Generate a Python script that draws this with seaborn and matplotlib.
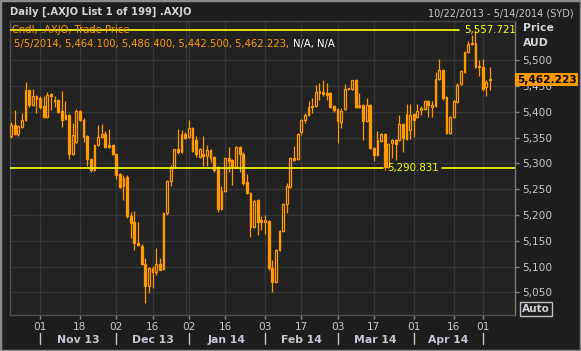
import matplotlib
matplotlib.use("Agg")
import matplotlib.pyplot as plt
from matplotlib.patches import Rectangle
import seaborn as sns
import numpy as np
import pandas as pd

# ---- data (daily candles, .AXJO, 22 Oct 2013 .. 5 May 2014) ----
opens = [5353, 5374, 5356, 5371, 5385, 5442, 5413, 5430, 5426, 5411,
         5390, 5434, 5423, 5422, 5401, 5393, 5393, 5319, 5341, 5401,
         5385, 5353, 5308, 5288, 5335, 5352, 5357, 5335, 5335, 5319,
         5279, 5257, 5274, 5198, 5186, 5146, 5140, 5104, 5062, 5098,
         5090, 5105, 5096, 5203, 5266, 5293, 5327, 5322, 5357, 5351,
         5368, 5345, 5313, 5318, 5315, 5326, 5312, 5292, 5211, 5246,
         5310, 5306, 5293, 5331, 5319, 5264, 5242, 5176, 5228, 5190,
         5187, 5188, 5098, 5070, 5132, 5168, 5222, 5255, 5310, 5308,
         5360, 5384, 5394, 5410, 5412, 5440, 5439, 5437, 5437, 5411,
         5405, 5381, 5406, 5444, 5444, 5461, 5414, 5413, 5382, 5413,
         5329, 5316, 5344, 5357, 5293, 5339, 5346, 5346, 5376, 5348,
         5365, 5395, 5389, 5404, 5405, 5421, 5410, 5411, 5463, 5481,
         5428, 5358, 5390, 5419, 5454, 5477, 5516, 5531, 5534, 5489,
         5487, 5448, 5464.1]
highs = [5380, 5403, 5375, 5397, 5458, 5444, 5445, 5432, 5430, 5430,
         5438, 5436, 5430, 5424, 5440, 5420, 5395, 5378, 5406, 5403,
         5387, 5355, 5310, 5337, 5374, 5377, 5363, 5366, 5338, 5321,
         5281, 5277, 5278, 5206, 5207, 5187, 5144, 5116, 5100, 5101,
         5135, 5116, 5205, 5268, 5296, 5328, 5366, 5364, 5361, 5384,
         5370, 5353, 5330, 5353, 5336, 5327, 5314, 5294, 5256, 5312,
         5331, 5308, 5333, 5333, 5322, 5279, 5244, 5229, 5230, 5198,
         5200, 5190, 5113, 5133, 5170, 5224, 5261, 5312, 5334, 5359,
         5386, 5398, 5421, 5426, 5452, 5456, 5461, 5455, 5439, 5413,
         5407, 5408, 5454, 5447, 5462, 5463, 5436, 5415, 5427, 5415,
         5331, 5363, 5359, 5359, 5340, 5348, 5348, 5393, 5378, 5416,
         5416, 5397, 5416, 5412, 5423, 5423, 5420, 5478, 5503, 5483,
         5430, 5392, 5422, 5455, 5481, 5518, 5538, 5548, 5557.721, 5501,
         5503, 5462, 5486.4]
lows = [5350, 5355, 5354, 5369, 5383, 5410, 5411, 5398, 5405, 5388,
        5388, 5403, 5410, 5398, 5371, 5384, 5308, 5317, 5339, 5383,
        5342, 5295, 5284, 5286, 5333, 5350, 5330, 5330, 5316, 5269,
        5252, 5228, 5195, 5155, 5132, 5140, 5102, 5029, 5048, 5059,
        5083, 5093, 5094, 5200, 5256, 5291, 5319, 5320, 5348, 5349,
        5322, 5312, 5311, 5295, 5295, 5303, 5284, 5206, 5209, 5244,
        5284, 5258, 5291, 5284, 5258, 5240, 5158, 5174, 5161, 5171,
        5164, 5093, 5051, 5068, 5130, 5166, 5204, 5253, 5305, 5306,
        5355, 5378, 5392, 5398, 5410, 5423, 5430, 5423, 5408, 5400,
        5340, 5369, 5404, 5442, 5442, 5408, 5408, 5345, 5380, 5327,
        5305, 5314, 5342, 5287, 5291, 5310, 5306, 5344, 5322, 5346,
        5347, 5352, 5387, 5393, 5403, 5390, 5390, 5409, 5461, 5422,
        5356, 5356, 5388, 5417, 5452, 5475, 5514, 5529, 5485, 5469,
        5440, 5430, 5442.5]
closes = [5374, 5357, 5372, 5385, 5442, 5413, 5430, 5425, 5410, 5390,
          5432, 5431, 5420, 5400, 5385, 5386, 5319, 5355, 5401, 5385,
          5352, 5308, 5288, 5335, 5352, 5357, 5332, 5332, 5319, 5277,
          5255, 5272, 5197, 5185, 5145, 5142, 5104, 5062, 5098, 5090,
          5105, 5094, 5203, 5266, 5293, 5327, 5322, 5357, 5350, 5368,
          5324, 5319, 5327, 5314, 5326, 5310, 5287, 5211, 5246, 5310,
          5305, 5293, 5331, 5319, 5262, 5242, 5176, 5227, 5187, 5187,
          5190, 5098, 5070, 5132, 5168, 5222, 5256, 5310, 5307, 5357,
          5384, 5394, 5410, 5412, 5439, 5437, 5434, 5432, 5410, 5403,
          5382, 5402, 5445, 5445, 5461, 5410, 5410, 5382, 5413, 5329,
          5316, 5345, 5357, 5293, 5338, 5346, 5338, 5376, 5350, 5395,
          5394, 5384, 5402, 5408, 5421, 5413, 5413, 5463, 5481, 5426,
          5358, 5390, 5420, 5452, 5479, 5516, 5531, 5534, 5487, 5486,
          5445, 5458, 5462.223]

# trading-day index of the date ticks
tick_pos = [8, 19, 29, 39, 49, 59, 70, 80, 90, 100, 111, 122, 130]
tick_labels = ['01', '18', '02', '16', '02', '16', '03', '17', '03', '17', '01', '16', '01']
month_starts = [8, 29, 49, 70, 90, 111, 130]
month_labels = ['Nov 13', 'Dec 13', 'Jan 14', 'Feb 14', 'Mar 14', 'Apr 14']

price_ticks = [5050, 5100, 5150, 5200, 5250, 5300, 5350, 5400, 5450, 5500]
upper_level = 5557.721
lower_level = 5290.831
n_days_axis = 139   # axis runs to 14 May 2014

# ---- style ----
ORANGE = '#ff9900'
PANEL = '#222222'
OUTER = '#1d1d1d'
GRID = '#363636'
LABEL = '#c2c9d6'
YELLOW = '#ffff00'

sns.set_theme(style='dark', rc={'axes.facecolor': PANEL, 'figure.facecolor': OUTER})
plt.rcParams['font.family'] = ['DejaVu Sans']

df = pd.DataFrame({'open': opens, 'high': highs, 'low': lows, 'close': closes})
df['x'] = np.arange(len(df))
df['up'] = df['close'] >= df['open']
df['body_lo'] = df[['open', 'close']].min(axis=1)
df['body_h'] = (df['close'] - df['open']).abs().clip(lower=1.5)

W, H = 581, 351
fig = plt.figure(figsize=(W / 100, H / 100), dpi=100)
ax = fig.add_axes([10 / W, 36 / H, 505 / W, 294 / H])
ax.set_facecolor(PANEL)

# grid
for p in price_ticks:
    ax.axhline(p, color=GRID, lw=1, zorder=0)
for p in tick_pos:
    ax.axvline(p, color=GRID, lw=1, zorder=0)
ax.axvline(48.2, color=GRID, lw=1, zorder=0)

# candles: wick first, bodies on top (hollow = up day, filled = down day)
ax.vlines(df['x'], df['low'], df['high'], color=ORANGE, lw=0.9, zorder=3)
up = df[df['up']]
dn = df[~df['up']]
ax.bar(up['x'], up['body_h'], bottom=up['body_lo'], width=0.5,
       facecolor=PANEL, edgecolor=ORANGE, linewidth=0.9, zorder=4)
ax.bar(dn['x'], dn['body_h'], bottom=dn['body_lo'], width=0.5,
       facecolor=ORANGE, edgecolor=ORANGE, linewidth=0.9, zorder=4)

ax.set_xlim(-0.28, n_days_axis - 0.1)
ax.set_ylim(5006, 5576)

# horizontal level lines
ytr = ax.get_yaxis_transform()
ax.plot([0, 0.889], [upper_level] * 2, color=YELLOW, lw=1.2, transform=ytr, zorder=5)
ax.text(0.899, upper_level, f'{upper_level:,.3f}', color=YELLOW, fontsize=7.4,
        transform=ytr, va='center', ha='left', zorder=6)
ax.plot([0, 0.739], [lower_level] * 2, color=YELLOW, lw=1.2, transform=ytr, zorder=5)
ax.plot([0.855, 1], [lower_level] * 2, color=YELLOW, lw=1.2, transform=ytr, zorder=5)
ax.text(0.746, lower_level, f'{lower_level:,.3f}', color=YELLOW, fontsize=7.4,
        transform=ytr, va='center', ha='left', zorder=6)

# y axis on the right
ax.yaxis.tick_right()
ax.set_yticks(price_ticks)
ax.set_yticklabels([f'{p:,}' for p in price_ticks])
ax.tick_params(axis='y', colors='#8a8a8a', labelcolor=LABEL, labelsize=7.6,
               length=3, width=1, pad=2, direction='out', right=True, left=False)

# x axis
ax.set_xticks(tick_pos)
ax.set_xticklabels(tick_labels)
ax.tick_params(axis='x', colors='#8a8a8a', labelcolor=LABEL, labelsize=7.6,
               length=3, width=1, pad=2, direction='out', bottom=True)
xtr = ax.get_xaxis_transform()
for a, b, lab in zip(month_starts[:-1], month_starts[1:], month_labels):
    ax.text((a + b) / 2, -0.085, lab, transform=xtr, ha='center', va='center',
            color=LABEL, fontsize=7.8, fontweight='bold')
for m in month_starts:
    ax.plot([m, m], [-0.062, -0.1], transform=xtr, color=LABEL, lw=1, clip_on=False)

for side, col in [('left', '#505050'), ('bottom', '#505050'), ('top', '#444444'), ('right', '#7a7a7a')]:
    ax.spines[side].set_color(col)
    ax.spines[side].set_linewidth(1)

# last price tag
last = closes[-1]
ax.text(1.004, last, f'{last:,.3f}', transform=ytr, ha='left', va='center',
        color='black', fontsize=7.6, fontweight='bold', zorder=10,
        bbox=dict(boxstyle='square,pad=0.15', fc=ORANGE, ec='none'))

# header texts
def fy(py):
    return 1 - py / H

fig.text(10 / W, fy(12), 'Daily [.AXJO List 1 of 199] .AXJO', color='#d0d4dc',
         fontsize=7.2, fontweight='bold', va='center', ha='left')
fig.text(574 / W, fy(13), '10/22/2013 - 5/14/2014 (SYD)', color=LABEL,
         fontsize=7.0, va='center', ha='right')
fig.text(523 / W, fy(28), 'Price', color='#d0d4dc', fontsize=7.8,
         fontweight='bold', va='center', ha='left')
fig.text(523 / W, fy(43), 'AUD', color='#d0d4dc', fontsize=7.8,
         fontweight='bold', va='center', ha='left')
fig.text(12 / W, fy(30), 'Cndl, .AXJO, Trade Price', color=ORANGE,
         fontsize=7.2, va='center', ha='left', zorder=1)
ohlc_txt = fig.text(14 / W, fy(44),
                    f'5/5/2014, {opens[-1]:,.3f}, {highs[-1]:,.3f}, {lows[-1]:,.3f}, {closes[-1]:,.3f},',
                    color=ORANGE, fontsize=7.2, va='center', ha='left')
ax.annotate('N/A, N/A', xy=(1, 0.5), xycoords=ohlc_txt, xytext=(3, 0),
            textcoords='offset points', va='center', ha='left',
            color='white', fontsize=7.2, annotation_clip=False)

# Auto button
fig.text(536 / W, fy(309), 'Auto', color='#d0d4dc', fontsize=7.6, fontweight='bold',
         va='center', ha='center',
         bbox=dict(boxstyle='square,pad=0.15', fc=OUTER, ec='#c0c0c0', lw=1))

# outer frame
fig.patches.append(Rectangle((0, 0), 1, 1, transform=fig.transFigure, fill=False,
                             ec='#8a8a8a', lw=2.5))

fig.savefig('out.png', dpi=100, facecolor=OUTER)
